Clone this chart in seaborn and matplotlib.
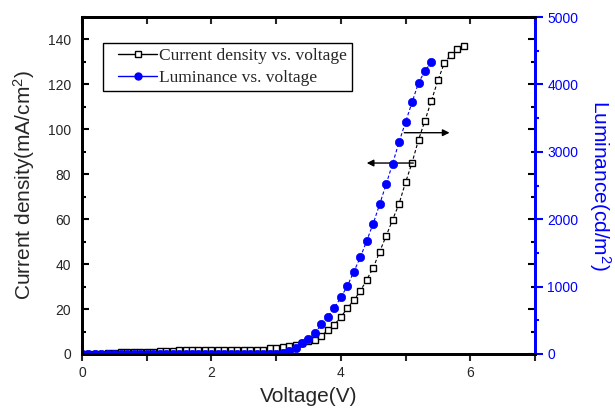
import numpy as np
import matplotlib
matplotlib.use('Agg')
import matplotlib.pyplot as plt
from matplotlib.lines import Line2D
from matplotlib.legend_handler import HandlerLine2D
from matplotlib.ticker import MultipleLocator
import seaborn as sns

# current density vs voltage (black squares, left axis)
voltage_j = [0.0, 0.1, 0.2, 0.3, 0.4, 0.5, 0.6, 0.7, 0.8, 0.9,
             1.0, 1.1, 1.2, 1.3, 1.4, 1.5, 1.6, 1.7, 1.8, 1.9,
             2.0, 2.1, 2.2, 2.3, 2.4, 2.5, 2.6, 2.7, 2.8, 2.9,
             3.0, 3.1, 3.2, 3.3, 3.4, 3.5, 3.6, 3.7, 3.8, 3.9,
             4.0, 4.1, 4.2, 4.3, 4.4, 4.5, 4.6, 4.7, 4.8, 4.9,
             5.0, 5.1, 5.2, 5.3, 5.4, 5.5, 5.6, 5.7, 5.8, 5.9]
current_density = [0.1, 0.1, 0.2, 0.2, 0.3, 0.6, 0.7, 0.7, 0.8, 0.8,
                   1.1, 1.1, 1.2, 1.5, 1.5, 1.6, 1.6, 1.6, 1.6, 1.7,
                   1.7, 1.7, 1.7, 1.7, 1.7, 1.7, 1.8, 1.8, 1.8, 2.5,
                   2.7, 3.3, 3.5, 4.0, 5.0, 5.8, 6.3, 8.0, 10.7, 13.0,
                   16.5, 20.3, 24.0, 27.9, 33.1, 38.3, 45.6, 52.5, 59.8, 66.9,
                   76.4, 85.1, 95.3, 103.9, 112.8, 121.8, 129.6, 133.1, 135.8, 137.0]

# luminance vs voltage (blue dots, right axis)
voltage_l = [0.0, 0.1, 0.2, 0.3, 0.4, 0.5, 0.6, 0.7, 0.8, 0.9,
             1.0, 1.1, 1.2, 1.3, 1.4, 1.5, 1.6, 1.7, 1.8, 1.9,
             2.0, 2.1, 2.2, 2.3, 2.4, 2.5, 2.6, 2.7, 2.8, 2.9,
             3.0, 3.1, 3.2, 3.3, 3.4, 3.5, 3.6, 3.7, 3.8, 3.9,
             4.0, 4.1, 4.2, 4.3, 4.4, 4.5, 4.6, 4.7, 4.8, 4.9,
             5.0, 5.1, 5.2, 5.3, 5.4]
luminance = [0, 0, 0, 0, 0, 0, 0, 0, 0, 0,
             0, 0, 0, 0, 0, 0, 0, 0, 0, 0,
             0, 0, 0, 0, 0, 0, 0, 0, 0, 0,
             0, 15, 40, 95, 160, 220, 310, 440, 553, 686,
             840, 1007, 1220, 1432, 1679, 1936, 2222, 2519, 2825, 3146,
             3442, 3733, 4025, 4198, 4331]

# arrows pointing to the axis each curve belongs to (voltage, current density)
arrow_left = [(5.12, 85), (4.40, 85)]
arrow_right = [(4.98, 98.5), (5.68, 98.5)]

blue = '#0000ff'

sns.set_style('ticks')
plt.rcParams['font.family'] = ['Liberation Sans', 'DejaVu Sans']
plt.rcParams['mathtext.default'] = 'regular'

fig = plt.figure(figsize=(6.15, 4.15), dpi=100)
ax = fig.add_axes([0.1333, 0.147, 0.7366, 0.812])
ax2 = ax.twinx()

sns.lineplot(x=voltage_j, y=current_density, ax=ax, color='black', marker='s',
             markersize=5, markerfacecolor='white', markeredgecolor='black',
             markeredgewidth=1.0, linewidth=0.8, linestyle=(0, (3, 2)), legend=False)
sns.lineplot(x=voltage_l, y=luminance, ax=ax2, color=blue, marker='o',
             markersize=6, markerfacecolor=blue, markeredgecolor=blue,
             markeredgewidth=0.5, linewidth=0.8, linestyle=(0, (3, 2)), legend=False)

ax.set_xlim(0, 7)
ax.set_ylim(0, 150)
ax2.set_ylim(0, 5000)

ax.xaxis.set_major_locator(MultipleLocator(2))
ax.xaxis.set_minor_locator(MultipleLocator(1))
ax.yaxis.set_major_locator(MultipleLocator(20))
ax.yaxis.set_minor_locator(MultipleLocator(10))
ax2.yaxis.set_major_locator(MultipleLocator(1000))
ax2.yaxis.set_minor_locator(MultipleLocator(500))
ax.set_yticks(range(0, 141, 20))

ax.tick_params(axis='x', which='both', direction='out', width=1.5, labelsize=10,
               pad=4, length=5)
ax.tick_params(axis='y', which='both', direction='in', left=True, right=True,
               width=1.5, labelsize=10, pad=8, color='black')
ax.tick_params(axis='y', which='major', length=5)
ax.tick_params(axis='y', which='minor', length=3)

ax2.tick_params(axis='y', which='both', direction='out', colors=blue, width=1.5,
                labelsize=10, pad=3)
ax2.tick_params(axis='y', which='major', length=6)
ax2.tick_params(axis='y', which='minor', length=3)

top = ax.secondary_xaxis('top')
top.xaxis.set_major_locator(MultipleLocator(1))
top.tick_params(axis='x', direction='in', length=5, width=1.5, labeltop=False)

for a in (ax, ax2):
    for side in ('left', 'top', 'bottom'):
        a.spines[side].set_color('black')
        a.spines[side].set_linewidth(2)
    a.spines['right'].set_color(blue)
    a.spines['right'].set_linewidth(2)
top.spines['top'].set_linewidth(2)

ax.set_xlabel('Voltage(V)', fontsize=15, labelpad=5)
ax.set_ylabel('Current density(mA/cm$^2$)', fontsize=15, labelpad=8)
ax2.set_ylabel('Luminance(cd/m$^2$)', fontsize=15, color=blue, rotation=270,
               va='bottom', labelpad=6)

for start, end in (arrow_left, arrow_right):
    ax.annotate('', xy=end, xytext=start,
                arrowprops=dict(arrowstyle='-|>', color='black', lw=1.0,
                                mutation_scale=10, shrinkA=0, shrinkB=0))

handles = [
    Line2D([], [], color='black', marker='s', markersize=5, markerfacecolor='white',
           markeredgecolor='black', linewidth=1),
    Line2D([], [], color=blue, marker='o', markersize=5, markerfacecolor=blue,
           markeredgecolor=blue, linewidth=1),
]
labels = ['Current density vs. voltage', 'Luminance vs. voltage']
leg = ax2.legend(handles, labels, loc='upper left', bbox_to_anchor=(0.046, 0.923),
                 borderaxespad=0, frameon=True, fancybox=False, edgecolor='black',
                 framealpha=1, handlelength=2.8, handletextpad=0.15, labelspacing=0.3,
                 borderpad=0.3, prop={'family': 'Liberation Serif', 'size': 12.5},
                 handler_map={Line2D: HandlerLine2D(xpad=0.6)})
leg.get_frame().set_linewidth(1.0)

fig.savefig('out.png', dpi=100)
